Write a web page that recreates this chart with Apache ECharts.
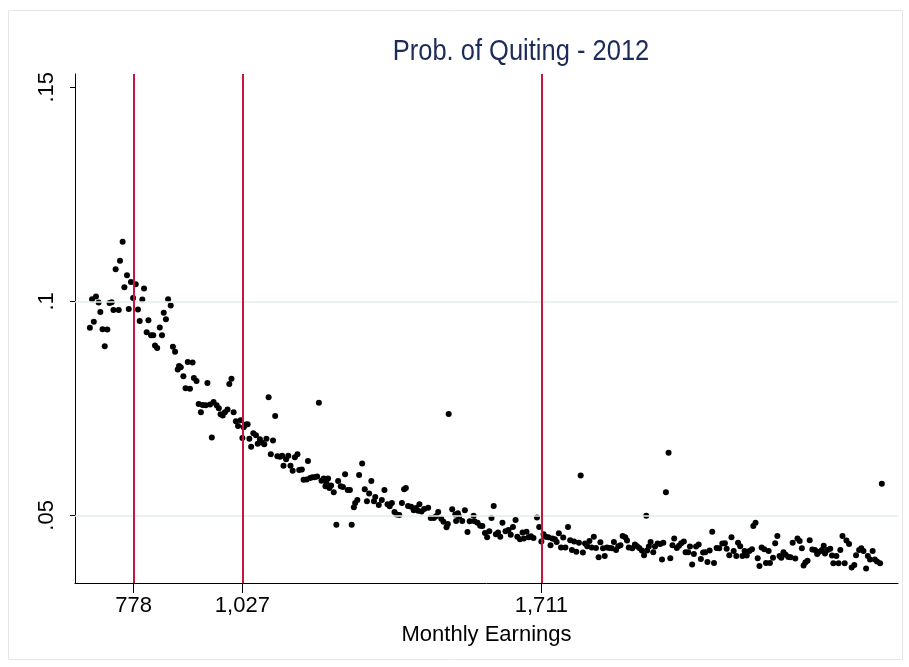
<!DOCTYPE html>
<html>
<head>
<meta charset="utf-8">
<script src="https://cdn.jsdelivr.net/npm/echarts@6/dist/echarts.min.js"></script>
<style>
  html, body { margin: 0; padding: 0; background: #fff; }
  #chart { width: 909px; height: 667px; }
</style>
</head>
<body>
<div id="chart"></div>
<script>
// binned monthly earnings (x) and share quitting (y)
const earnings = [
  678, 683, 687, 692, 698, 702, 707, 712, 718, 723, 728, 732, 737, 744, 747, 753, 757, 763, 767, 772,
  777, 783, 788, 792, 798, 802, 808, 812, 818, 823, 827, 832, 838, 843, 847, 852, 857, 863, 868, 873,
  879, 882, 886, 892, 897, 902, 907, 913, 916, 922, 927, 932, 936, 943, 947, 953, 957, 961, 968, 973,
  977, 982, 987, 993, 997, 1002, 1007, 1012, 1017, 1023, 1027, 1030, 1035, 1039, 1043, 1047, 1052, 1058, 1062, 1067,
  1071, 1077, 1082, 1087, 1092, 1097, 1102, 1107, 1113, 1118, 1121, 1127, 1132, 1137, 1142, 1147, 1153, 1157, 1163, 1167,
  1174, 1177, 1182, 1187, 1192, 1198, 1202, 1208, 1213, 1217, 1219, 1223, 1226, 1230, 1236, 1242, 1246, 1252, 1257, 1262,
  1268, 1273, 1277, 1282, 1285, 1290, 1294, 1301, 1307, 1312, 1317, 1322, 1328, 1331, 1339, 1346, 1352, 1359, 1364, 1369,
  1375, 1380, 1386, 1392, 1397, 1401, 1406, 1413, 1419, 1424, 1429, 1432, 1437, 1443, 1452, 1458, 1465, 1470, 1475, 1482,
  1487, 1494, 1497, 1499, 1507, 1514, 1516, 1520, 1523, 1530, 1536, 1542, 1547, 1556, 1558, 1565, 1571, 1576, 1582, 1587,
  1592, 1597, 1602, 1607, 1612, 1617, 1622, 1629, 1636, 1641, 1646, 1652, 1656, 1662, 1668, 1671, 1677, 1682, 1687, 1693,
  1701, 1706, 1711, 1716, 1721, 1727, 1732, 1736, 1742, 1746, 1751, 1756, 1761, 1766, 1772, 1777, 1781, 1786, 1791, 1797,
  1801, 1806, 1811, 1816, 1821, 1826, 1831, 1836, 1842, 1846, 1852, 1856, 1861, 1867, 1872, 1877, 1882, 1887, 1892, 1897,
  1903, 1907, 1911, 1919, 1925, 1930, 1935, 1941, 1946, 1951, 1953, 1957, 1961, 1967, 1971, 1977, 1983, 1987, 1990, 1996,
  2002, 2006, 2011, 2015, 2021, 2026, 2031, 2037, 2041, 2047, 2051, 2056, 2060, 2065, 2071, 2076, 2081, 2086, 2091, 2096,
  2102, 2106, 2112, 2118, 2125, 2131, 2135, 2141, 2146, 2151, 2157, 2161, 2166, 2171, 2176, 2181, 2187, 2193, 2196, 2201,
  2206, 2210, 2215, 2221, 2225, 2231, 2234, 2241, 2246, 2251, 2256, 2260, 2265, 2270, 2276, 2281, 2286, 2292, 2297, 2302,
  2307, 2311, 2315, 2320, 2325, 2331, 2337, 2342, 2347, 2353, 2357, 2360, 2366, 2372, 2376, 2379, 2386, 2391, 2395, 2400,
  2405, 2409, 2415, 2421, 2427, 2431, 2438, 2443, 2448, 2454, 2458, 2463, 2469, 2474, 2479, 2486, 2490, 2495
];

const quitProb = [
  .0938, .1005, .0952, .1011, .0997, .0975, .0935, .0895, .0934, .0996, .0998, .0980, .1075, .0980, .1095, .1139, .1033, .1061, .0982, .1045,
  .1008, .1040, .0981, .0954, .1004, .1030, .0928, .0956, .0921, .0921, .0897, .0891, .0939, .0921, .0973, .0958, .1005, .0990, .0894, .0882,
  .0841, .0849, .0846, .0825, .0797, .0858, .0796, .0857, .0821, .0814, .0760, .0741, .0758, .0757, .0809, .0759, .0682, .0765, .0757, .0750,
  .0736, .0733, .0741, .0747, .0807, .0819, .0741, .0720, .0709, .0722, .0681, .0706, .0712, .0713, .0679, .0660, .0692, .0687, .0667, .0678,
  .0670, .0666, .0679, .0776, .0643, .0675, .0732, .0638, .0637, .0639, .0616, .0631, .0639, .0616, .0604, .0636, .0643, .0606, .0607, .0583,
  .0584, .0627, .0587, .0589, .0589, .0591, .0763, .0581, .0586, .0568, .0577, .0586, .0564, .0570, .0554, .0478, .0580, .0568, .0566, .0596,
  .0559, .0559, .0478, .0519, .0529, .0536, .0594, .0621, .0561, .0533, .0551, .0580, .0533, .0543, .0524, .0536, .0559, .0526, .0521, .0529,
  .0508, .0502, .0501, .0529, .0561, .0564, .0522, .0520, .0512, .0517, .0511, .0526, .0509, .0515, .0518, .0494, .0494, .0498, .0508, .0492,
  .0485, .0472, .0480, .0737, .0514, .0502, .0487, .0505, .0497, .0487, .0512, .0461, .0486, .0499, .0486, .0483, .0476, .0475, .0459, .0449,
  .0463, .0494, .0522, .0456, .0460, .0450, .0483, .0463, .0466, .0455, .0473, .0489, .0450, .0444, .0460, .0446, .0462, .0449, .0451, .0447,
  .0495, .0473, .0439, .0456, .0450, .0449, .0430, .0446, .0444, .0438, .0458, .0425, .0448, .0425, .0473, .0442, .0419, .0439, .0415, .0436,
  .0593, .0413, .0434, .0428, .0440, .0425, .0450, .0424, .0402, .0437, .0423, .0405, .0425, .0424, .0423, .0438, .0419, .0428, .0430, .0452,
  .0449, .0441, .0425, .0423, .0432, .0428, .0424, .0418, .0407, .0499, .0418, .0427, .0438, .0414, .0427, .0434, .0433, .0397, .0436, .0554,
  .0646, .0400, .0430, .0446, .0424, .0429, .0435, .0439, .0414, .0414, .0427, .0385, .0410, .0427, .0432, .0398, .0413, .0414, .0391, .0418,
  .0462, .0389, .0424, .0423, .0434, .0435, .0422, .0407, .0449, .0417, .0405, .0436, .0428, .0405, .0417, .0406, .0417, .0421, .0475, .0483,
  .0400, .0382, .0425, .0421, .0389, .0417, .0389, .0401, .0435, .0452, .0405, .0401, .0414, .0408, .0403, .0402, .0436, .0399, .0446, .0440,
  .0423, .0383, .0390, .0394, .0442, .0420, .0419, .0410, .0415, .0419, .0429, .0411, .0419, .0422, .0406, .0388, .0405, .0388, .0419, .0452,
  .0388, .0441, .0433, .0378, .0384, .0407, .0419, .0423, .0417, .0376, .0405, .0397, .0417, .0397, .0392, .0388, .0574
];

// cut-off lines and axis labels
const cutoffs = [778, 1027, 1711];
const yTicks = [0.05, 0.1, 0.15];
const gridValues = [0.05, 0.1];

const points = earnings.map((x, i) => [x, quitProb[i]]);

const FONT = 'Liberation Sans, Arial, sans-serif';

const chart = echarts.init(document.getElementById('chart'));
chart.setOption({
  animation: false,
  backgroundColor: '#fff',
  graphic: [
    {
      type: 'rect',
      shape: { x: 8.5, y: 10.5, width: 894, height: 649 },
      style: { fill: 'none', stroke: '#e6e6e6', lineWidth: 1 },
      silent: true,
    },
    {
      // title, squeezed a little to look like the narrow Stata font
      type: 'text',
      x: 521,
      y: 52,
      scaleX: 0.85,
      silent: true,
      style: {
        text: 'Prob. of Quiting - 2012',
        font: '30px ' + FONT,
        fill: '#1c2b57',
        textAlign: 'center',
        textVerticalAlign: 'middle',
      },
    },
  ],
  grid: { left: 75, right: 11, top: 74, bottom: 84 },
  xAxis: {
    type: 'value',
    min: 644,
    max: 2527,
    name: 'Monthly Earnings',
    nameLocation: 'middle',
    nameGap: 41,
    nameTextStyle: { color: '#000', fontFamily: FONT, fontSize: 22 },
    axisLine: { show: true, lineStyle: { color: '#000', width: 1 } },
    axisTick: { show: true, length: 10, customValues: cutoffs, lineStyle: { color: '#000' } },
    axisLabel: {
      customValues: cutoffs,
      color: '#000',
      fontFamily: FONT,
      fontSize: 22,
      margin: 12,
      formatter: (v) => Number(v).toLocaleString('en-US'),
    },
    splitLine: { show: false },
  },
  yAxis: {
    type: 'value',
    min: 0.0342,
    max: 0.1531,
    axisLine: { show: true, lineStyle: { color: '#000', width: 1 } },
    axisTick: { show: true, length: 5, customValues: yTicks, lineStyle: { color: '#000' } },
    axisLabel: {
      customValues: yTicks,
      rotate: 90,
      color: '#000',
      fontFamily: FONT,
      fontSize: 22,
      margin: 17,
      formatter: (v) => String(+v.toFixed(2)).replace(/^0\./, '.'),
    },
    splitLine: { show: false },
  },
  series: [
    {
      type: 'scatter',
      data: [],
      z: 1,
      markLine: {
        silent: true,
        symbol: 'none',
        label: { show: false },
        lineStyle: { color: '#e3ecef', type: 'solid', width: 1.5 },
        data: gridValues.map((v) => ({ yAxis: v })),
      },
    },
    {
      type: 'scatter',
      data: [],
      z: 2,
      markLine: {
        silent: true,
        symbol: 'none',
        label: { show: false },
        lineStyle: { color: '#c8143f', type: 'solid', width: 2 },
        data: cutoffs.map((v) => ({ xAxis: v })),
      },
    },
    {
      type: 'scatter',
      data: points,
      z: 3,
      symbol: 'circle',
      symbolSize: 6,
      itemStyle: { color: '#000', opacity: 1 },
    },
  ],
});
</script>
</body>
</html>
